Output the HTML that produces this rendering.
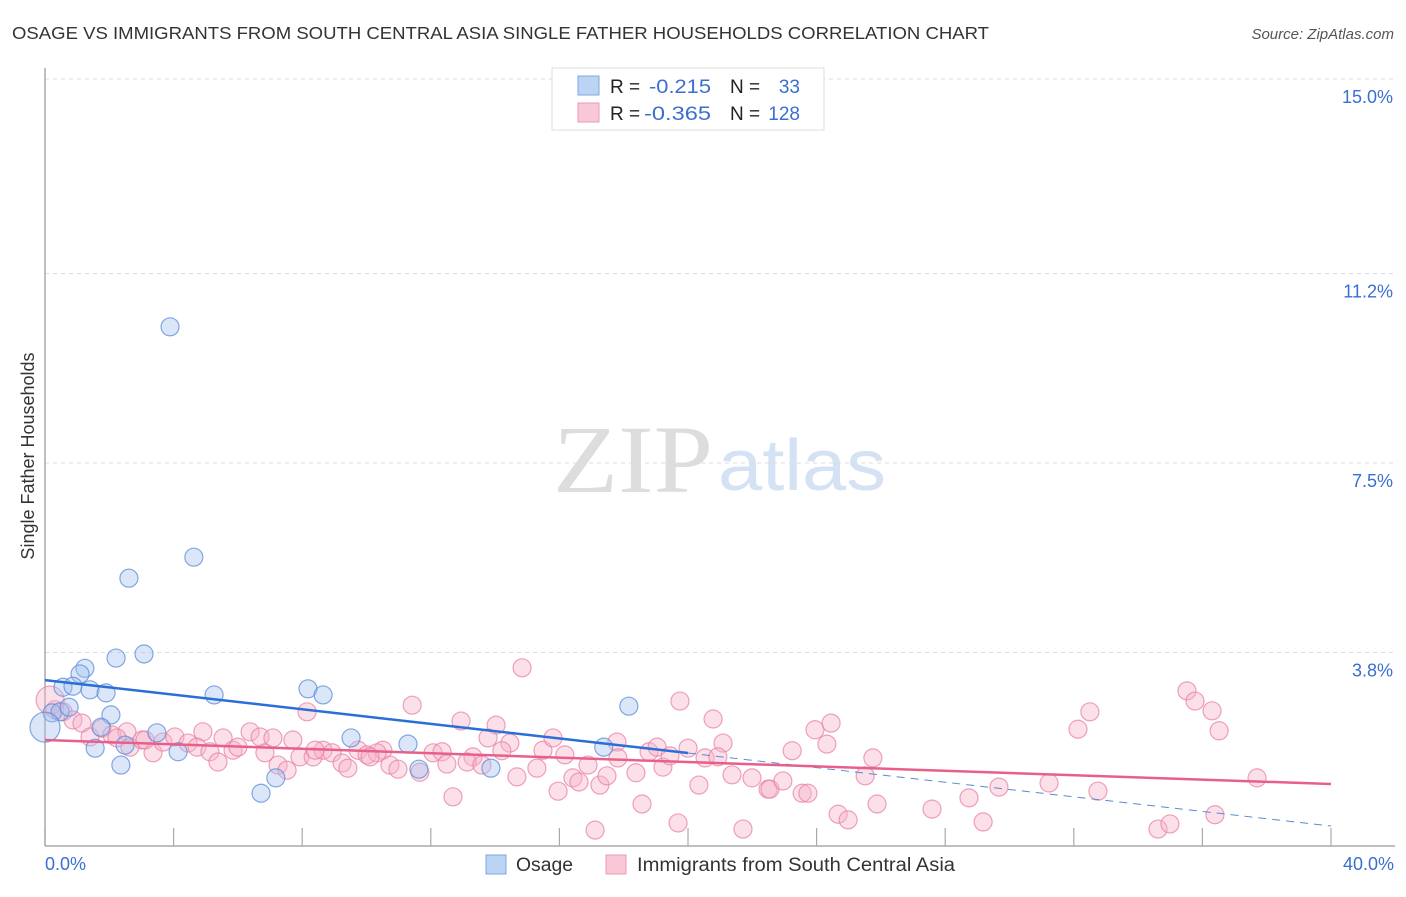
<!DOCTYPE html>
<html><head><meta charset="utf-8">
<style>
body{margin:0;background:#fff;width:1406px;height:892px;overflow:hidden;font-family:"Liberation Sans",sans-serif;}
</style></head>
<body>
<svg id="chart" width="1406" height="892" xmlns="http://www.w3.org/2000/svg">
<text x="12" y="39" font-size="17.5" fill="#333" textLength="977" lengthAdjust="spacingAndGlyphs">OSAGE VS IMMIGRANTS FROM SOUTH CENTRAL ASIA SINGLE FATHER HOUSEHOLDS CORRELATION CHART</text>
<text x="1394" y="39" font-size="15" fill="#555" font-style="italic" text-anchor="end">Source: ZipAtlas.com</text>
<g>
<text x="553" y="492" font-size="96" fill="#ddd" font-family="Liberation Serif,serif" textLength="160" lengthAdjust="spacingAndGlyphs">ZIP</text>
<text x="718" y="490" font-size="72" fill="#d4e2f4" textLength="168" lengthAdjust="spacingAndGlyphs">atlas</text>
</g>
<g id="grid"></g>
<g id="axes"></g>
<g id="pts"></g>
<g id="lines"></g>
<text transform="translate(34,456) rotate(-90)" font-size="18" fill="#333" text-anchor="middle">Single Father Households</text>
<g>
<rect x="552" y="68" width="272" height="62" fill="#fff" stroke="#ddd"/>
<rect x="578" y="76" width="21" height="19" fill="#bcd4f4" stroke="#7ea7e0"/>
<rect x="578" y="103" width="21" height="19" fill="#f9c8d6" stroke="#eb9ab3"/>
<text x="610" y="93" font-size="19" fill="#222">R =</text>
<text x="649" y="93" font-size="19" fill="#3a6fd0" textLength="62" lengthAdjust="spacingAndGlyphs">-0.215</text>
<text x="730" y="93" font-size="19" fill="#222">N =</text>
<text x="800" y="93" font-size="19" fill="#3a6fd0" text-anchor="end">33</text>
<text x="610" y="120" font-size="19" fill="#222">R =</text>
<text x="644" y="120" font-size="19" fill="#3a6fd0" textLength="67" lengthAdjust="spacingAndGlyphs">-0.365</text>
<text x="730" y="120" font-size="19" fill="#222">N =</text>
<text x="800" y="120" font-size="19" fill="#3a6fd0" text-anchor="end">128</text>
</g>
<g>
<rect x="486" y="855" width="20" height="19" fill="#bcd4f4" stroke="#7ea7e0"/>
<text x="516" y="871" font-size="19" fill="#333" textLength="57" lengthAdjust="spacingAndGlyphs">Osage</text>
<rect x="606" y="855" width="20" height="19" fill="#f9c8d6" stroke="#eb9ab3"/>
<text x="637" y="871" font-size="19" fill="#333" textLength="318" lengthAdjust="spacingAndGlyphs">Immigrants from South Central Asia</text>
</g>
</svg>
<script>
const yTicks=[15.0,11.2,7.5,3.8];
const yTickLabels=["15.0%","11.2%","7.5%","3.8%"];
const xTickValues=[0,4,8,12,16,20,24,28,32,36,40];
const xEndLabels=["0.0%","40.0%"];
const osageX=[3.89,2.61,4.63,3.08,2.21,1.24,1.09,0.56,0.87,1.40,1.90,5.26,8.18,8.65,18.16,0.22,0.47,0.75,2.05,1.74,3.48,2.49,1.56,4.14,2.36,6.72,7.18,9.52,11.29,11.63,13.87,17.38,0];
const osageY=[10.16,5.25,5.66,3.77,3.69,3.49,3.38,3.12,3.14,3.07,3.01,2.97,3.09,2.97,2.75,2.62,2.64,2.73,2.58,2.34,2.23,1.99,1.93,1.86,1.60,1.05,1.35,2.13,2.01,1.52,1.54,1.95,2.34];
const immX=[14.84,11.42,12.94,14.03,13.78,14.46,14.21,10.51,12.07,12.35,13.31,13.13,13.59,12.50,10.73,10.98,11.66,14.68,15.30,15.49,15.80,16.17,15.96,16.42,16.61,16.89,17.26,17.48,17.79,17.82,18.38,18.57,18.79,19.04,19.22,19.44,19.75,20.00,20.53,20.78,21.09,20.93,20.34,21.37,21.99,22.49,19.69,17.11,21.71,12.69,23.24,23.95,24.45,24.32,22.55,22.95,23.55,23.73,25.51,25.75,25.88,24.67,24.98,27.59,28.74,29.18,29.67,31.23,32.75,32.13,32.50,35.52,35.77,36.30,36.52,37.70,36.39,34.62,34.99,0.31,0.56,0.87,1.15,1.40,1.77,2.08,2.55,2.24,2.64,3.02,3.36,3.11,3.67,4.04,4.45,4.91,4.73,5.13,5.38,5.54,5.85,6.00,6.38,6.69,6.84,7.09,7.25,7.53,7.71,8.15,7.93,8.34,8.65,8.93,9.24,9.42,9.74,10.02,10.33,10.11,8.40,0.16];
const immY=[3.50,2.77,2.46,2.38,2.13,2.03,1.88,1.89,1.84,1.86,1.76,1.66,1.60,1.62,1.60,1.52,1.46,1.37,1.54,1.89,2.13,1.80,1.09,1.35,1.27,1.60,1.21,1.39,2.05,1.74,1.45,0.84,1.86,1.95,1.56,1.78,2.85,1.93,1.74,2.50,2.03,1.76,1.21,1.41,1.35,1.13,0.47,0.33,0.35,0.98,1.88,2.29,2.42,2.01,1.13,1.29,1.05,1.05,1.39,1.74,0.84,0.64,0.53,0.74,0.96,0.49,1.17,1.25,1.09,2.30,2.64,3.05,2.85,2.66,2.27,1.35,0.63,0.35,0.45,2.68,2.64,2.48,2.42,2.15,2.32,2.19,2.25,2.13,1.95,2.09,1.84,2.09,2.05,2.15,2.03,2.25,1.95,1.86,1.66,2.13,1.89,1.95,2.25,2.15,1.84,2.13,1.60,1.50,2.09,2.64,1.76,1.76,1.89,1.84,1.64,1.54,1.89,1.80,1.84,1.76,1.89,2.87];
const osageTrend=[3.26,0.41];
const immTrend=[2.09,1.23];

const NS="http://www.w3.org/2000/svg";
const X0=45,X1=1331,Y0=847,YPX=51.2;
function sx(v){return X0+(X1-X0)*v/40;}
function sy(v){return Y0-v*YPX;}
function mk(tag,attrs,parent){const e=document.createElementNS(NS,tag);for(const k in attrs)e.setAttribute(k,attrs[k]);parent.appendChild(e);return e;}
const grid=document.getElementById('grid'),axes=document.getElementById('axes'),pts=document.getElementById('pts'),lines=document.getElementById('lines');
yTicks.forEach((t,i)=>{
  const l=mk('line',{x1:45,x2:1395,y1:sy(t),y2:sy(t),stroke:'#ddd','stroke-dasharray':'4,4'},grid);
  
  
  const tx=mk('text',{x:1393,y:sy(t)+24,'font-size':18,fill:'#3a6fd0','text-anchor':'end'},axes);
  tx.textContent=yTickLabels[i];
  
  
});
const ya=mk('line',{x1:45,x2:45,y1:68,y2:846,stroke:'#aaa','stroke-width':1.5},axes);


const xa=mk('line',{x1:45,x2:1395,y1:846,y2:846,stroke:'#aaa','stroke-width':1.5},axes);


xTickValues.forEach(v=>{
  const t=mk('line',{x1:sx(v),x2:sx(v),y1:828,y2:846,stroke:'#aaa','stroke-width':1.2},axes);
  
  
});
[[0,'start',45],[40,'end',1394]].forEach((d,i)=>{
  const t=mk('text',{x:d[2],y:870,'font-size':18,fill:'#3a6fd0','text-anchor':d[1]},axes);
  t.textContent=xEndLabels[i];
  
  
});
immX.forEach((x,i)=>{
  const big=i===immX.length-1;
  const c=mk('circle',{cx:sx(x),cy:sy(immY[i]),r:big?14:9,fill:'rgba(248,178,200,0.4)',stroke:'rgba(232,130,165,0.75)','stroke-width':1.2},pts);
  
  
});
osageX.forEach((x,i)=>{
  const big=i===osageX.length-1;
  const c=mk('circle',{cx:sx(x),cy:sy(osageY[i]),r:big?15:9,fill:'rgba(164,196,240,0.4)',stroke:'rgba(90,140,215,0.75)','stroke-width':1.2},pts);
  
  
});
function trendY(tr,x){return tr[0]+(tr[1]-tr[0])*x/40;}
const maxOsage=20;
const b1=mk('line',{x1:sx(0),y1:sy(trendY(osageTrend,0)),x2:sx(maxOsage),y2:sy(trendY(osageTrend,maxOsage)),stroke:'#2a6fd6','stroke-width':2.5},lines);


const b2=mk('line',{x1:sx(maxOsage),y1:sy(trendY(osageTrend,maxOsage)),x2:sx(40),y2:sy(trendY(osageTrend,40)),stroke:'#5a8ad0','stroke-width':1,'stroke-dasharray':'8,6'},lines);


const p1=mk('line',{x1:sx(0),y1:sy(trendY(immTrend,0)),x2:sx(40),y2:sy(trendY(immTrend,40)),stroke:'#e8608a','stroke-width':2.5},lines);


</script>
</body></html>
